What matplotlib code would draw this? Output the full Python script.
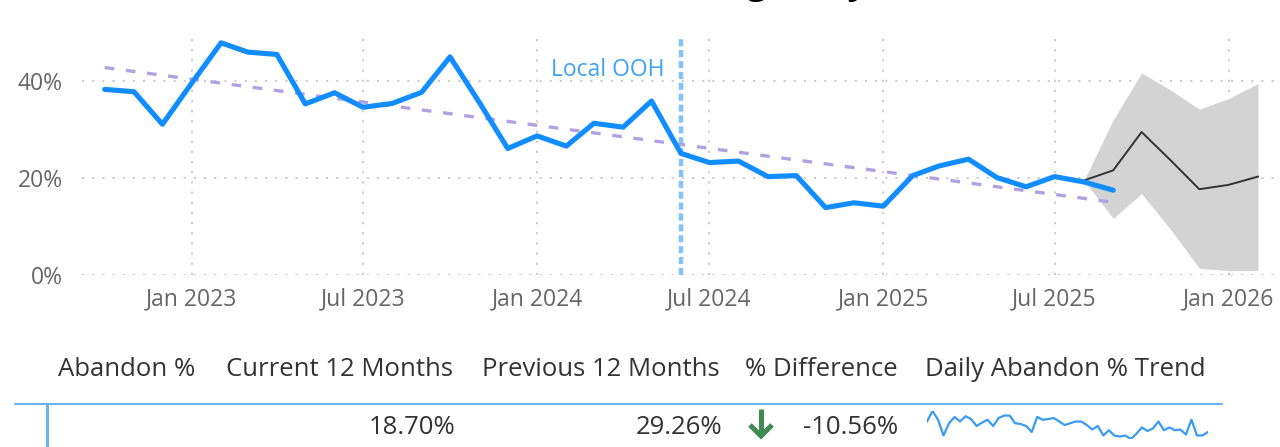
import matplotlib
matplotlib.use('Agg')
import matplotlib.pyplot as plt
import matplotlib.dates as mdates
import pandas as pd

plt.rcParams['font.family'] = ['Open Sans', 'DejaVu Sans']

# monthly abandon % (actuals)
months = pd.date_range('2022-10-01', '2025-09-01', freq='MS')
abandon = [38.3, 37.8, 31.1, 39.6, 47.9, 46.0, 45.5, 35.3, 37.6, 34.6, 35.4, 37.7,
           45.0, 35.6, 26.1, 28.7, 26.6, 31.3, 30.5, 35.9, 25.1, 23.2, 23.5, 20.3,
           20.5, 13.9, 14.9, 14.2, 20.5, 22.5, 23.9, 20.1, 18.2, 20.3, 19.2, 17.5]

# forecast with confidence band
fc_months = pd.date_range('2025-08-01', '2026-02-01', freq='MS')
fc_mid = [19.5, 21.6, 29.5, 23.6, 17.7, 18.6, 20.3]
fc_hi = [19.5, 32.0, 41.7, 38.1, 34.2, 36.4, 39.5]
fc_lo = [19.5, 11.7, 16.8, 9.3, 1.4, 0.9, 0.9]

# linear trend (start / end)
trend_ends = [42.8, 15.0]

ooh_date = pd.Timestamp('2024-06-01')
ooh_label = 'Local OOH'

y_ticks = [0, 20, 40]
x_ticks = pd.date_range('2023-01-01', '2026-01-01', freq='6MS')

# table under the chart
title = 'Abandon % Trending Daily'
headers = ['Abandon %', 'Current 12 Months', 'Previous 12 Months', '% Difference', 'Daily Abandon % Trend']
current_12 = '18.70%'
previous_12 = '29.26%'
pct_diff = '-10.56%'
daily_trend = [26.0, 38.0, 28.0, 10.0, 24.0, 31.2, 26.0, 32.0, 28.8, 20.8, 24.8, 28.0, 20.8,
               30.0, 32.8, 32.8, 24.0, 23.2, 20.8, 14.0, 31.2, 28.0, 28.8, 30.0, 26.0, 22.0,
               24.0, 26.0, 26.0, 22.0, 16.8, 20.8, 10.0, 16.0, 10.0, 8.8, 10.0, 6.0, 12.0,
               19.2, 15.2, 18.0, 26.0, 16.0, 19.2, 16.0, 16.8, 11.2, 28.0, 10.0, 10.0, 14.0]

W, H = 1280, 447
fig = plt.figure(figsize=(W / 100, H / 100), dpi=100)

# main chart
ax = fig.add_axes([82 / W, (H - 275) / H, (1275 - 82) / W, 237.5 / H])
ax.fill_between(fc_months, fc_lo, fc_hi, color='#D3D3D3', lw=0, zorder=1)
ax.plot(fc_months, fc_mid, color='#333333', lw=1.4, zorder=2)
ax.axvline(ooh_date, color='#84C2FC', lw=3.2, dashes=(1.6, 0.85), zorder=3)
ax.plot([months[0], months[-1]], trend_ends, color='#B0A2E2', lw=2.4,
        dashes=(2.9, 3.5), zorder=4)
ax.plot(months, abandon, color='#118DFF', lw=3.7, solid_capstyle='round',
        solid_joinstyle='round', zorder=5)
ax.annotate(ooh_label, xy=(ooh_date, 42.3), xytext=(-12, 0), textcoords='offset points',
            ha='right', va='center', color='#3FA3F4', fontsize=16.5)

ax.set_xlim(pd.Timestamp('2022-09-07'), pd.Timestamp('2026-02-19'))
ax.set_ylim(0, 49)
ax.set_yticks(y_ticks)
ax.set_yticklabels(['{}%'.format(v) for v in y_ticks])
ax.set_xticks(x_ticks)
ax.xaxis.set_major_formatter(mdates.DateFormatter('%b %Y'))
ax.tick_params(length=0, labelsize=16.5, labelcolor='#666666')
ax.tick_params(axis='y', pad=14)
ax.tick_params(axis='x', pad=9)
ax.grid(True, color='#C4C4C4', lw=1.2, linestyle=(0, (1.3, 4.8)))
ax.set_axisbelow(True)
for s in ax.spines.values():
    s.set_visible(False)

# overlay in pixel units for the table
ov = fig.add_axes([0, 0, 1, 1])
ov.set_xlim(0, W)
ov.set_ylim(H, 0)
ov.axis('off')
ov.patch.set_alpha(0)

# title sits above the visible area, only the descenders show (as in the source)
ov.text(868, -6.5, title, ha='right', va='baseline', fontsize=26,
        fontweight='bold', color='black', clip_on=False)

hdr_y = 370
txt_c = '#333333'
ov.text(58, hdr_y, headers[0], ha='left', va='center', fontsize=18.5, color=txt_c)
ov.text(453, hdr_y, headers[1], ha='right', va='center', fontsize=18.5, color=txt_c)
ov.text(720, hdr_y, headers[2], ha='right', va='center', fontsize=18.5, color=txt_c)
ov.text(898, hdr_y, headers[3], ha='right', va='center', fontsize=18.5, color=txt_c)
ov.text(925, hdr_y, headers[4], ha='left', va='center', fontsize=18.5, color=txt_c)

ov.plot([15, 1222], [404, 404], color='#3A9BF0', lw=1.1)
ov.plot([46.5, 46.5], [405, 447], color='#6AB4F5', lw=2.2)

val_y = 428
ov.text(455, val_y, current_12, ha='right', va='center', fontsize=18.5, color=txt_c)
ov.text(722, val_y, previous_12, ha='right', va='center', fontsize=18.5, color=txt_c)
ov.text(898, val_y, pct_diff, ha='right', va='center', fontsize=18.5, color=txt_c)

# green down arrow
ov.plot([761, 761], [409, 436], color='#3F8A4F', lw=3.6, solid_capstyle='butt')
ov.plot([750, 761, 772], [425, 436, 425], color='#3F8A4F', lw=3.6,
        solid_joinstyle='miter', solid_capstyle='butt')

# sparkline
sp = fig.add_axes([927 / W, (H - 439) / H, (1208 - 927) / W, 28 / H])
sp.plot(range(len(daily_trend)), daily_trend, color='#3A9BF0', lw=1.6)
sp.set_xlim(0, len(daily_trend) - 1)
sp.set_ylim(min(daily_trend), max(daily_trend))
sp.axis('off')

fig.savefig('out.png', dpi=100)
